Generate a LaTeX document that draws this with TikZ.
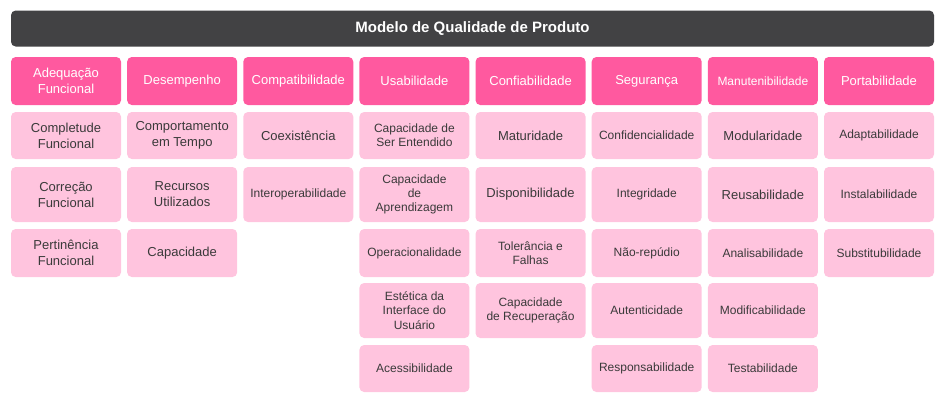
\documentclass[tikz,border=0pt]{standalone}
\usepackage{fontspec}
\setmainfont{Liberation Sans}
\definecolor{barcol}{HTML}{424244}
\definecolor{catcol}{HTML}{FF599F}
\definecolor{cellcol}{HTML}{FFC4DE}
\definecolor{txtcol}{HTML}{3A3A3A}
\tikzset{
  base/.style={inner sep=0pt, rounded corners=3.5pt, align=center, minimum width=82.5pt},
  titlebar/.style={base, fill=barcol, text=white, minimum width=692.25pt, minimum height=27pt,
    font=\fontsize{11.25}{13}\selectfont\bfseries},
  cat/.style={base, fill=catcol, text=white, minimum height=36pt,
    font=\fontsize{9.75}{12}\selectfont},
  catsm/.style={cat, font=\fontsize{9}{10.7}\selectfont},
  cell/.style={base, fill=cellcol, text=txtcol, font=\fontsize{9.75}{12}\selectfont},
  cellsm/.style={cell, font=\fontsize{9}{10.7}\selectfont},
  ra/.style={minimum height=35.25pt},
  rb/.style={minimum height=41.25pt},
  rc/.style={minimum height=36pt},
  rd/.style={minimum height=41.25pt},
  re/.style={minimum height=35.25pt},
}
\begin{document}
\begin{tikzpicture}[x=0.75pt,y=-0.75pt]
\useasboundingbox (0,0) rectangle (942,405);
\node[titlebar] (title) at (472.5,28.5) {Modelo de Qualidade de Produto};
% row y centres: 81, 135.5, 194.5, 253, 310.5, 368.5
% column 1
\node[cat] (h1) at (66,81) {Adequação\\Funcional};
\node[cell,ra] (c1a) at (66,135.5) {Completude\\Funcional};
\node[cell,rb] (c1b) at (66,194.5) {Correção\\Funcional};
\node[cell,rc] (c1c) at (66,253) {Pertinência\\Funcional};
% column 2
\node[cat] (h2) at (182.14,81) {Desempenho};
\node[cell,ra] (c2a) at (182.14,135.5) {Comportamento\\em Tempo};
\node[cell,rb] (c2b) at (182.14,194.5) {Recursos\\Utilizados};
\node[cell,rc] (c2c) at (182.14,253) {Capacidade};
% column 3
\node[cat] (h3) at (298.29,81) {Compatibilidade};
\node[cell,ra] (c3a) at (298.29,135.5) {Coexistência};
\node[cellsm,rb] (c3b) at (298.29,194.5) {Interoperabilidade};
% column 4
\node[cat] (h4) at (414.43,81) {Usabilidade};
\node[cellsm,ra] (c4a) at (414.43,135.5) {Capacidade de\\Ser Entendido};
\node[cellsm,rb] (c4b) at (414.43,194.5) {Capacidade\\de\\Aprendizagem};
\node[cellsm,rc] (c4c) at (414.43,253) {Operacionalidade};
\node[cellsm,rd] (c4d) at (414.43,310.5) {Estética da\\Interface do\\Usuário};
\node[cellsm,re] (c4e) at (414.43,368.5) {Acessibilidade};
% column 5
\node[cat] (h5) at (530.57,81) {Confiabilidade};
\node[cell,ra] (c5a) at (530.57,135.5) {Maturidade};
\node[cell,rb] (c5b) at (530.57,194.5) {Disponibilidade};
\node[cellsm,rc] (c5c) at (530.57,253) {Tolerância e\\Falhas};
\node[cellsm,rd] (c5d) at (530.57,310.5) {Capacidade\\de Recuperação};
% column 6
\node[cat] (h6) at (646.71,81) {Segurança};
\node[cellsm,ra] (c6a) at (646.71,135.5) {Confidencialidade};
\node[cellsm,rb] (c6b) at (646.71,194.5) {Integridade};
\node[cellsm,rc] (c6c) at (646.71,253) {Não-repúdio};
\node[cellsm,rd] (c6d) at (646.71,310.5) {Autenticidade};
\node[cellsm,re] (c6e) at (646.71,368.5) {Responsabilidade};
% column 7
\node[catsm] (h7) at (762.86,81) {Manutenibilidade};
\node[cell,ra] (c7a) at (762.86,135.5) {Modularidade};
\node[cell,rb] (c7b) at (762.86,194.5) {Reusabilidade};
\node[cellsm,rc] (c7c) at (762.86,253) {Analisabilidade};
\node[cellsm,rd] (c7d) at (762.86,310.5) {Modificabilidade};
\node[cellsm,re] (c7e) at (762.86,368.5) {Testabilidade};
% column 8
\node[cat] (h8) at (879,81) {Portabilidade};
\node[cellsm,ra] (c8a) at (879,135.5) {Adaptabilidade};
\node[cellsm,rb] (c8b) at (879,194.5) {Instalabilidade};
\node[cellsm,rc] (c8c) at (879,253) {Substitubilidade};
\end{tikzpicture}
\end{document}
